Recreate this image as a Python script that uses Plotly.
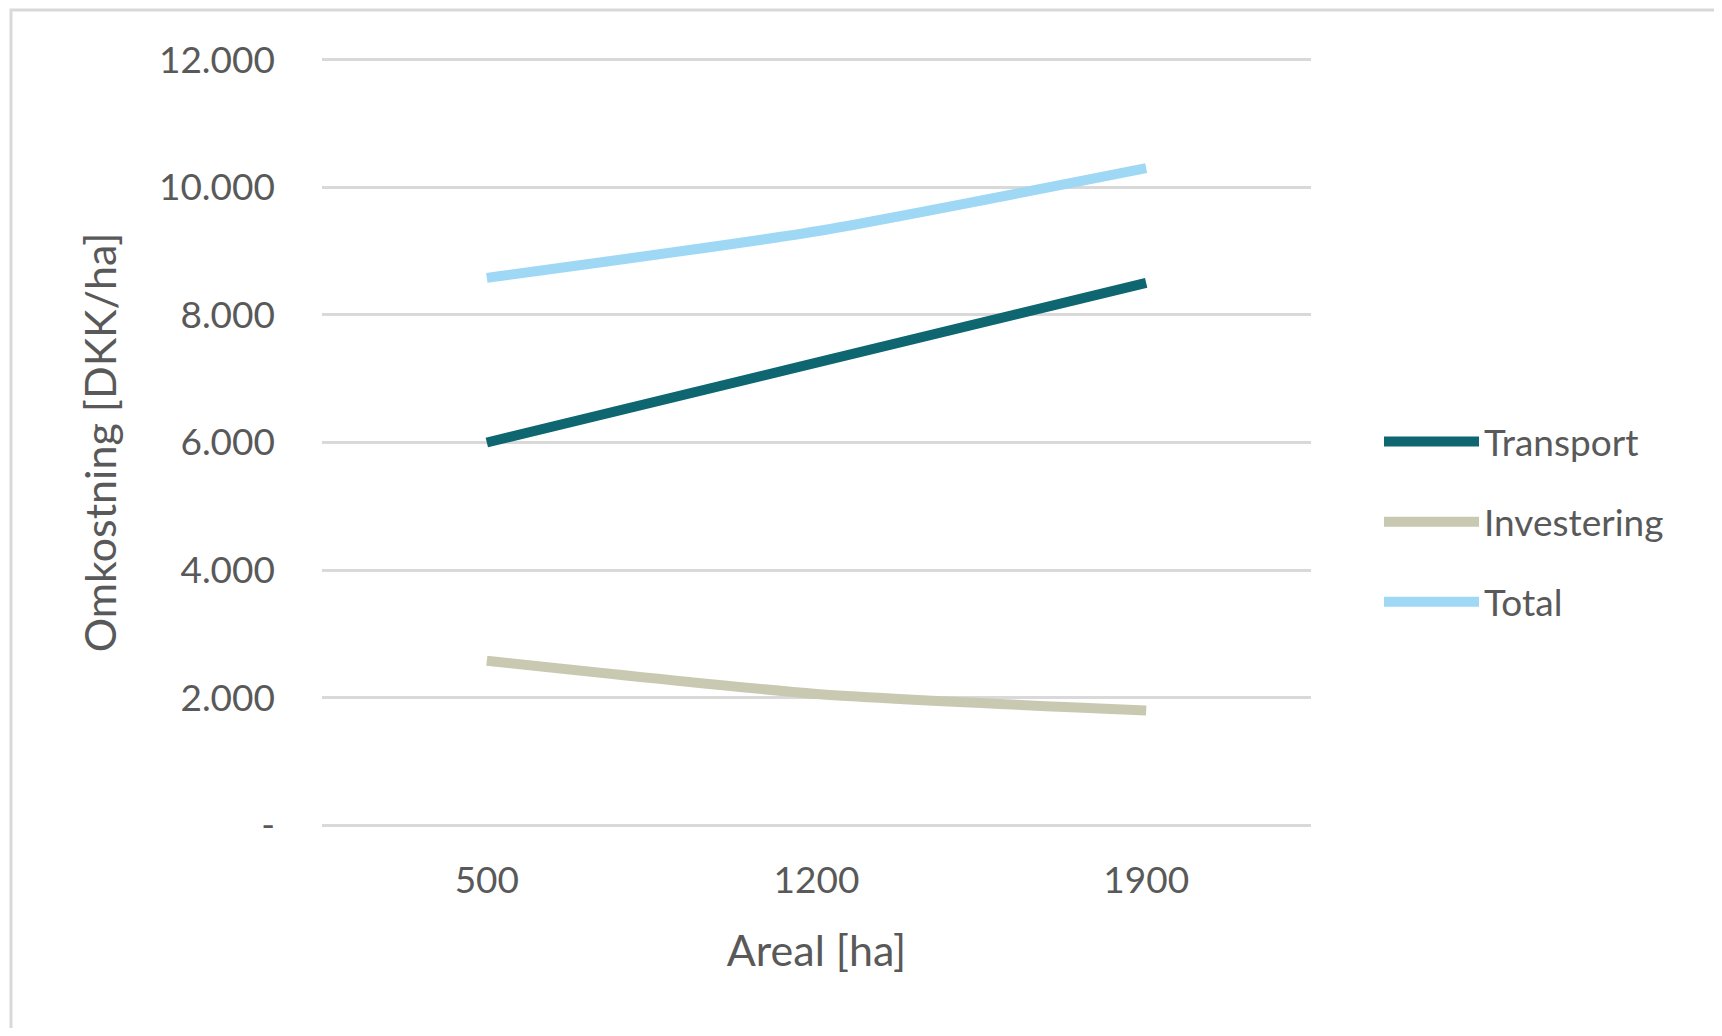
import plotly.graph_objects as go

areal = ["500", "1200", "1900"]
transport = [6000, 7250, 8500]
investering = [2580, 2060, 1800]
total = [8580, 9310, 10300]
series_names = ["Transport", "Investering", "Total"]
series_colors = ["#0E6671", "#C9C9B2", "#9ED8F5"]
y_tickvals = [0, 2000, 4000, 6000, 8000, 10000, 12000]
y_ticktext = ["-", "2.000", "4.000", "6.000", "8.000", "10.000", "12.000"]

OFF = 8  # default body margin of the page
W, H = 1722 - 2 * OFF, 1036 - 2 * OFF
L, R, T, B = 314, 403, 50, 201
pw, ph = W - L - R, H - T - B

fig = go.Figure()
for name, vals, col in zip(series_names, [transport, investering, total], series_colors):
    fig.add_trace(go.Scatter(
        x=areal, y=vals, name=name, mode="lines",
        line=dict(color=col, width=10, shape="spline", smoothing=0.6),
        legendgroup=name,
    ))

font_fam = "Lato, 'Open Sans', sans-serif"
txt = "#595959"

def px_to_paper_x(px):
    return (px - OFF - L) / pw

def px_to_paper_y(py):
    return (H - B - (py - OFF)) / ph

fig.update_layout(
    width=W, height=H,
    margin=dict(l=L, r=R, t=T, b=B),
    paper_bgcolor="white", plot_bgcolor="white",
    font=dict(family=font_fam, color=txt, size=37),
    showlegend=True,
    legend=dict(
        x=px_to_paper_x(1379), y=px_to_paper_y(522), xanchor="left", yanchor="middle",
        font=dict(size=37, color=txt), traceorder="grouped", tracegroupgap=29,
        itemwidth=95, bgcolor="rgba(0,0,0,0)",
    ),
    xaxis=dict(
        type="category", range=[-0.5, 2.5], showgrid=False, zeroline=False, showline=False,
        ticks="", tickfont=dict(size=37, color=txt), ticklabelstandoff=28,
        title=dict(text="Areal [ha]", font=dict(size=43, color=txt), standoff=35),
    ),
    yaxis=dict(
        range=[-25, 12025], tickvals=y_tickvals, ticktext=y_ticktext,
        showgrid=True, gridcolor="#D9D9D9", gridwidth=3, zeroline=False,
        showline=False, ticks="", tickfont=dict(size=37, color=txt), ticklabelstandoff=46,
        title=dict(text="Omkostning [DKK/ha]", font=dict(size=43, color=txt), standoff=28),
    ),
    shapes=[dict(
        type="rect", xref="paper", yref="paper",
        x0=px_to_paper_x(11), x1=px_to_paper_x(1760),
        y0=px_to_paper_y(1060), y1=px_to_paper_y(10),
        line=dict(color="#D9D9D9", width=3), fillcolor="rgba(0,0,0,0)", layer="below",
    )],
)

fig.write_html("out.html")
